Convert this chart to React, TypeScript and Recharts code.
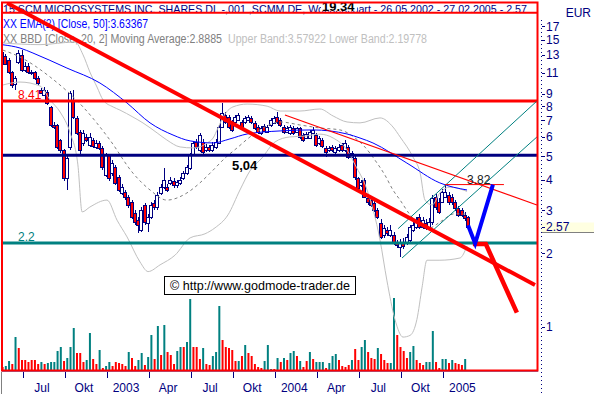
import React from 'react';
import { ComposedChart, Bar, Line, XAxis, YAxis, ReferenceLine, Cell } from 'recharts';

const FONT = '"Liberation Sans", Arial, sans-serif';
const NAVY = '#000080';
const TEAL = '#008080';
const RED = '#FF0000';
const BLUE = '#0000FF';

// Weekly candles, week index k = 0 .. 144 (26.05.2002 - 27.02.2005)
const opens = [12.62,12.85,12.39,11.06,9.87,12.15,13.0,11.27,11.65,11.1,
11.06,10.45,9.33,8.9,9.16,7.95,6.71,6.71,5.82,5.29,
4.07,5.45,8.49,7.17,6.28,5.66,5.99,5.55,5.82,5.45,
5.66,5.4,4.18,5.05,4.26,4.51,4.1,3.53,3.56,3.4,
3.24,2.92,2.73,2.49,3.15,2.66,2.81,3.2,3.09,3.53,
3.73,3.73,3.88,3.95,3.8,3.88,4.07,4.26,4.47,5.05,
5.71,5.29,5.71,5.29,5.45,5.29,5.45,5.66,6.58,7.37,
7.23,6.9,6.9,7.03,6.9,6.9,7.03,7.17,6.84,6.58,
6.22,6.65,6.28,6.71,6.84,7.23,7.03,6.58,6.28,6.22,
6.52,6.28,6.52,6.1,5.93,5.93,6.22,6.1,5.66,5.82,
5.4,5.29,5.45,5.19,5.29,5.55,5.29,5.45,4.95,4.91,
4.07,3.8,3.99,3.37,3.3,3.21,3.0,2.66,2.37,2.49,
2.37,2.37,2.2,2.12,2.2,2.22,2.26,2.49,2.56,2.81,
2.56,2.66,2.56,2.68,3.4,3.24,3.24,3.4,3.46,3.4,
3.24,3.06,3.0,2.87,2.81];
const highs = [13.9,13.1,12.6,11.2,10.65,13.6,13.6,12.2,12.0,11.3,
11.2,10.6,9.5,9.6,9.3,8.05,6.9,6.8,5.9,5.35,
5.0,9.2,9.33,7.3,6.4,6.4,6.15,6.2,5.95,5.8,
5.75,5.5,5.15,5.1,4.8,4.6,4.2,3.85,3.62,3.45,
3.3,3.0,2.8,3.1,3.2,2.9,3.25,3.3,3.55,3.85,
4.47,3.85,4.1,4.05,4.0,4.1,4.35,4.6,5.15,5.75,
5.85,6.2,5.85,5.6,5.55,5.7,5.85,6.7,8.25,7.6,
7.4,7.0,7.4,7.5,7.05,7.3,7.35,7.3,6.95,6.7,
6.65,6.75,6.7,7.15,7.3,7.6,7.15,6.7,6.65,6.7,
6.65,6.6,6.6,6.2,6.3,6.4,6.55,6.2,6.05,5.95,
5.5,5.5,5.55,5.5,5.6,5.65,5.8,5.55,5.25,5.0,
4.1,4.0,4.05,3.45,3.38,3.28,3.05,2.75,2.62,2.55,
2.6,2.45,2.26,2.28,2.3,2.4,2.62,2.7,2.8,2.9,
2.82,2.75,2.78,3.45,3.5,3.35,3.65,3.82,3.55,3.5,
3.3,3.12,3.05,2.95,2.85];
const lows = [12.15,11.8,10.9,9.5,9.33,11.9,11.1,11.1,10.9,10.8,
10.3,9.8,8.95,8.8,8.1,6.6,6.45,5.35,5.15,3.95,
3.63,5.3,7.1,6.1,5.1,5.5,5.7,5.45,5.4,5.35,
5.3,4.4,4.1,3.95,4.15,3.8,3.55,3.45,3.3,3.05,
2.75,2.6,2.42,2.45,2.6,2.45,2.75,3.0,3.0,3.45,
3.65,3.55,3.8,3.7,3.7,3.8,4.0,4.2,4.4,5.0,
5.35,5.2,5.1,5.2,5.2,5.2,5.35,5.6,6.5,6.8,
6.45,6.3,6.8,6.95,6.4,6.8,6.95,6.8,6.4,6.15,
6.1,6.25,6.2,6.6,6.75,6.8,6.6,6.15,6.2,6.1,
6.1,6.2,5.9,5.7,5.85,5.85,6.15,5.45,5.55,5.4,
4.95,5.2,5.2,5.1,5.2,5.2,5.2,4.85,4.9,4.0,
3.6,3.75,3.35,3.15,3.1,2.95,2.75,2.28,2.3,2.35,
2.32,2.16,2.1,1.93,2.08,2.15,2.22,2.45,2.5,2.5,
2.5,2.48,2.5,2.62,3.0,2.9,3.2,3.35,3.15,3.15,
2.98,2.8,2.8,2.72,2.5];
const closes = [13.36,11.95,11.06,9.78,10.45,13.25,11.27,11.7,11.06,11.0,
10.45,9.97,9.07,9.33,8.25,6.71,6.58,5.45,5.29,4.07,
4.91,9.07,7.23,6.22,5.29,6.22,5.82,5.99,5.5,5.66,
5.4,4.51,5.05,4.07,4.68,3.88,3.63,3.73,3.4,3.15,
2.81,2.68,2.61,3.0,2.68,2.81,3.15,3.08,3.46,3.73,
3.99,3.63,3.99,3.8,3.91,3.99,4.26,4.51,5.05,5.66,
5.45,6.1,5.19,5.45,5.29,5.55,5.71,6.58,7.51,6.9,
6.58,6.4,7.23,7.37,6.52,7.17,7.23,6.9,6.52,6.28,
6.52,6.34,6.58,7.03,7.17,6.9,6.71,6.28,6.52,6.58,
6.22,6.52,5.99,5.82,6.15,6.28,6.4,5.55,5.93,5.5,
5.19,5.4,5.29,5.4,5.45,5.29,5.66,4.95,5.14,4.1,
3.7,3.91,3.4,3.24,3.15,3.0,2.81,2.33,2.54,2.42,
2.49,2.22,2.16,2.2,2.14,2.33,2.56,2.61,2.68,2.56,
2.73,2.54,2.68,3.37,3.09,2.95,3.56,3.56,3.24,3.24,
3.06,2.87,2.87,2.79,2.57];
const volumes = [4,5,10,7,34,23,11,11,9,11, 11,7,9,7,8,9,9,20,24,10,
13,24,43,18,18,9,11,38,12,7, 21,3,5,9,5,9,8,7,5,19,
13,5,11,18,6,14,36,12,45,16, 46,19,16,7,20,24,24,29,72,24,
24,12,23,7,6,15,19,65,31,24, 23,21,10,10,15,26,18,15,7,4,
3,10,26,2,2,13,9,13,11,18, 20,15,10,4,10,19,12,9,9,9,
3,8,15,17,11,5,4,6,11,22, 11,24,31,19,13,12,23,17,11,8,
8,73,36,24,20,13,19,25,11,8, 6,9,9,40,9,3,12,12,8,11,
8,7,6,12,1];
// t = rising week (teal), r = falling week (red)
const volumeDirection = 'rttrtrrrrr' + 'rrtrtttttr' + 'tttrrrttrr' + 'trttrrrrrt' + 'rrttrttrtr' +
  'trrrttrttr' + 'rrtrrtttrr' + 'rrrtrtrrrr' + 'rtttrtrtrt' + 'trtrrtrttt' +
  'rtttrrrrtr' + 'rttrrrtrrr' + 'ttrrrrttrr' + 'rtttrrttrt' + 'rrrtr';

const xTickWeeks = [6.4, 19.4, 32.4, 45.4, 58.4, 71.4, 84.4, 97.4, 110.4, 123.4, 136.4];
const xTickLabels = ['Jul', 'Okt', '2003', 'Apr', 'Jul', 'Okt', '2004', 'Apr', 'Jul', 'Okt', '2005'];
const lastClose = 2.57;
const yTicks = [1, 2, lastClose, 3, 4, 5, 6, 7, 8, 9, 11, 13, 15, 17];

// indicator lines [week, value]
const ema50: [number, number][] = [[0.2,14.3],[5.5,13.87],[9.5,13.23],[20.0,11.48],[30.2,9.97],[38.6,8.25],[45.7,6.84],[52.8,6.1],[58.1,5.77],[65.2,5.66],[70.4,5.88],[75.7,6.16],[85.9,6.34],[96.1,6.4],[106.6,6.16],[110.6,5.93],[114.6,5.66],[125.1,4.68],[135.3,3.88],[143.7,3.63]];
const bbUpper: [number, number][] = [[0.2,14.54],[11.7,14.32],[22.5,14.68],[25.0,13.0],[27.1,11.06],[29.3,9.6],[31.2,8.49],[34.3,7.95],[36.4,7.72],[40.4,7.23],[43.5,6.84],[47.9,6.22],[50.9,5.82],[55.0,5.45],[59.0,5.4],[61.1,5.45],[63.3,5.66],[65.2,5.93],[66.7,6.52],[68.3,7.23],[71.3,7.95],[75.7,8.17],[81.9,8.01],[85.9,7.65],[92.0,7.65],[98.2,7.8],[102.3,7.3],[106.6,6.9],[110.6,6.84],[116.8,7.17],[120.8,6.58],[123.0,5.99],[127.0,4.95],[129.2,4.26],[130.7,3.3],[132.9,3.15],[135.3,3.53],[138.4,3.73],[143.7,3.58]];
const bbMiddle: [number, number][] = [[0.2,13.6],[5.5,12.74],[14.8,10.55],[25.0,7.95],[33.3,5.82],[40.4,4.26],[45.7,3.63],[50.9,3.3],[57.1,3.53],[61.1,3.88],[65.2,4.38],[68.9,4.91],[72.6,5.4],[76.6,5.99],[81.2,6.58],[85.9,6.9],[92.0,6.71],[98.2,6.52],[104.4,6.4],[109.1,5.93],[112.1,5.45],[115.2,4.82],[118.3,4.18],[120.8,3.63],[123.0,3.3],[126.1,2.87],[129.2,2.61],[132.2,2.54],[135.3,2.68],[139.9,2.9],[143.7,2.89]];
const bbLower: [number, number][] = [[0.2,9.78],[5.5,10.06],[11.7,9.69],[14.8,8.49],[17.9,7.58],[21.0,6.22],[23.4,4.6],[24.7,2.95],[27.1,3.09],[32.4,3.3],[35.5,2.73],[38.6,2.33],[42.6,1.84],[45.1,1.68],[48.8,1.79],[53.4,1.96],[58.1,2.31],[62.7,2.4],[65.8,2.54],[69.8,2.87],[73.5,3.63],[76.6,4.35],[80.3,4.91],[84.3,5.71],[88.9,5.99],[93.6,6.04],[98.2,6.15],[102.3,5.93],[106.6,5.29],[109.1,4.6],[112.8,3.63],[116.8,2.26],[118.9,1.55],[121.4,1.07],[123.9,0.905],[126.1,0.92],[128.2,1.07],[129.8,1.45],[131.3,1.87],[135.3,1.87],[141.5,1.91],[143.7,2.14]];

// drawn trend lines [week, price]
const mainTrend: [number, number][] = [[1.5, 21.2], [164.7, 1.48]];
const resistance: [number, number][] = [[87.4, 7.37], [165.3, 3.15]];
const channelUpper: [number, number][] = [[122.4, 2.52], [165.3, 8.41]];
const channelLower: [number, number][] = [[123.6, 1.91], [165.3, 5.99]];
const target382: [number, number][] = [[136.9, 3.82], [155.1, 3.82]];
const redScenario: [number, number][] = [[145.5, 2.18], [149.5, 2.18], [159.1, 1.14]];
const blueScenario: [number, number][] = [[144.0, 2.6], [146.2, 2.19], [151.7, 3.82]];
const levelHigh = 19.34;
const level841 = 8.41;
const level504 = 5.04;
const level22 = 2.2;

const XMIN = -0.062;
const XMAX = 165.63;
const YMIN = 0.657;
const YMAX = 21.42;

const candles = opens.map((o, i) => ({
  k: i, o, h: highs[i], l: lows[i], c: closes[i], vol: volumes[i], vUp: volumeDirection[i] === 't',
}));
const pts = (a: [number, number][]) => a.map(([k, v]) => ({ k, v }));
const seg = (a: [number, number][]) => a.map(([k, v]) => ({ x: k, y: v }));

const CandleShape = (props: any) => {
  const { x, y, width, height, payload } = props;
  if (!payload || !isFinite(y) || !isFinite(height)) return null;
  const { o, h, l, c } = payload;
  const n = Math.round(x + width / 2);
  const lh = Math.log(h);
  const span = lh - Math.log(l);
  const pp = span > 0 ? height / span : 0;
  const yOf = (v: number) => y + (lh - Math.log(v)) * pp;
  const t = Math.round(Math.min(yOf(o), yOf(c)));
  const b = Math.round(Math.max(yOf(o), yOf(c)));
  const up = c >= o;
  return (
    <g>
      <line x1={n + 0.5} x2={n + 0.5} y1={Math.round(y)} y2={Math.round(y + height)} stroke={NAVY} strokeWidth={1} />
      <rect x={n - 1.5} y={t + 0.5} width={3} height={Math.max(1, b - t)} fill={up ? '#FFFFFF' : RED} stroke={NAVY} strokeWidth={1} />
    </g>
  );
};

const XTick = (props: any) => {
  const { x, y, payload } = props;
  const i = xTickWeeks.indexOf(payload.value);
  const xr = Math.round(x) + 0.5;
  return (
    <g>
      <line x1={xr} x2={xr} y1={y + 1} y2={y + 7} stroke={NAVY} />
      <text x={x + 19} y={y + 21} textAnchor="middle" fontSize={12} fill={NAVY} fontFamily={FONT}>{xTickLabels[i]}</text>
    </g>
  );
};

const YTick = (props: any) => {
  const { x, y, payload } = props;
  const v = payload.value;
  const isLast = v === lastClose;
  const yr = Math.round(y) + 0.5;
  return (
    <g>
      {isLast && <rect x={x + 3} y={yr - 5} width={56} height={10} fill="#FFFFE1" />}
      {isLast && <line x1={x + 3} x2={x + 59} y1={yr + 5} y2={yr + 5} stroke="#808080" />}
      <line x1={x + 4} x2={x + 7} y1={yr} y2={yr} stroke={NAVY} />
      <text x={x + 8} y={y + 4.5} fontSize={12} fill={NAVY} fontFamily={FONT}>{String(v)}</text>
    </g>
  );
};

const mkLabel = (text: string, dx: number, dy: number, fill: string, size: number, bold = false, bg = false) =>
  (props: any) => {
    const vb = props.viewBox || {};
    const x0 = (vb.x ?? 0) + dx;
    const y0 = (vb.y ?? 0) + dy;
    return (
      <g>
        {bg && <rect x={x0 - 1} y={y0 - 9} width={36} height={9} fill="#FFFFFF" />}
        <text x={x0} y={y0} fill={fill} fontSize={size} fontWeight={bold ? 'bold' : 'normal'} fontFamily={FONT}>{text}</text>
      </g>
    );
  };

export default function App() {
  return (
    <div style={{ position: 'absolute', left: 0, top: 0, width: 594, height: 394, background: '#FFFFFF', overflow: 'hidden' }}>
      <svg width={594} height={394} style={{ position: 'absolute', left: 0, top: 0 }}>
        <text x={3} y={13} fontSize={11} fill={NAVY} fontFamily={FONT} textLength={524} lengthAdjust="spacingAndGlyphs">15 SCM MICROSYSTEMS INC. SHARES DL -,001 ,SCMM.DE, Wochenchart - 26.05.2002 - 27.02.2005 - 2.57</text>
        <text x={3} y={28} fontSize={12} fill={BLUE} fontFamily={FONT} textLength={145} lengthAdjust="spacingAndGlyphs">XX EMA(2) [Close, 50]:3.63367</text>
        <text x={3} y={43} fontSize={12} fill="#808080" fontFamily={FONT} textLength={219} lengthAdjust="spacingAndGlyphs">XX BBD [Close, 20, 2] Moving Average:2.8885</text>
        <text x={228} y={43} fontSize={12} fill="#C0C0C0" fontFamily={FONT} textLength={199} lengthAdjust="spacingAndGlyphs">Upper Band:3.57922 Lower Band:2.19778</text>
      </svg>
      <div style={{ position: 'absolute', left: 0, top: 0 }}>
        <ComposedChart width={594} height={394} data={candles} margin={{ top: 2, right: 0, bottom: 0, left: 2 }}>
          <XAxis xAxisId="main" type="number" dataKey="k" domain={[XMIN, XMAX]} allowDataOverflow
            ticks={xTickWeeks} interval={0} tick={<XTick />} tickLine={false} tickSize={0} tickMargin={0}
            axisLine={{ stroke: NAVY }} height={23} />
          <XAxis xAxisId="vol" type="number" dataKey="k" domain={[XMIN, XMAX]} allowDataOverflow hide />
          <YAxis yAxisId="price" orientation="right" scale="log" domain={[YMIN, YMAX]} allowDataOverflow
            ticks={yTicks} interval={0} tick={<YTick />} tickLine={false} tickSize={0} tickMargin={0}
            axisLine={false} width={56} />
          <YAxis yAxisId="vol" domain={[0, 369]} allowDataOverflow hide />

          <Bar xAxisId="vol" yAxisId="vol" dataKey="vol" barSize={2} isAnimationActive={false}>
            {candles.map((d, i) => <Cell key={i} fill={d.vUp ? TEAL : RED} />)}
          </Bar>

          <Line xAxisId="main" yAxisId="price" data={pts(bbUpper)} dataKey="v" type="monotone" dot={false} stroke="#C0C0C0" strokeWidth={1} isAnimationActive={false} />
          <Line xAxisId="main" yAxisId="price" data={pts(bbLower)} dataKey="v" type="monotone" dot={false} stroke="#C0C0C0" strokeWidth={1} isAnimationActive={false} />
          <Line xAxisId="main" yAxisId="price" data={pts(bbMiddle)} dataKey="v" type="monotone" dot={false} stroke="#808080" strokeWidth={1} strokeDasharray="3 3" isAnimationActive={false} />
          <Line xAxisId="main" yAxisId="price" data={pts(ema50)} dataKey="v" type="monotone" dot={false} stroke={BLUE} strokeWidth={1} isAnimationActive={false} />

          <Bar xAxisId="main" yAxisId="price" dataKey={(d: any) => [d.l, d.h]} barSize={3} shape={(p: any) => <CandleShape {...p} />} isAnimationActive={false} />

          <ReferenceLine xAxisId="main" yAxisId="price" y={levelHigh} stroke={RED} strokeWidth={2}
            label={mkLabel('19.34', 320, -2, '#000000', 13, true, true)} />
          <ReferenceLine xAxisId="main" yAxisId="price" y={level841} stroke={RED} strokeWidth={3}
            label={mkLabel('8.41', 16, -2, RED, 12)} />
          <ReferenceLine xAxisId="main" yAxisId="price" y={level504} stroke={NAVY} strokeWidth={3}
            label={mkLabel('5,04', 230, 15, '#000000', 13, true)} />
          <ReferenceLine xAxisId="main" yAxisId="price" y={level22} stroke={TEAL} strokeWidth={3}
            label={mkLabel('2.2', 16, -2, TEAL, 12)} />

          <ReferenceLine xAxisId="main" yAxisId="price" segment={seg(channelUpper)} stroke={TEAL} strokeWidth={1} ifOverflow="hidden" />
          <ReferenceLine xAxisId="main" yAxisId="price" segment={seg(channelLower)} stroke={TEAL} strokeWidth={1} ifOverflow="hidden" />
          <ReferenceLine xAxisId="main" yAxisId="price" segment={seg(resistance)} stroke={RED} strokeWidth={1.2} ifOverflow="hidden" />
          <ReferenceLine xAxisId="main" yAxisId="price" segment={seg(target382)} stroke={RED} strokeWidth={1}
            label={mkLabel('3.82', 22, -1, '#202020', 12)} ifOverflow="hidden" />
          <ReferenceLine xAxisId="main" yAxisId="price" segment={seg(mainTrend)} stroke={RED} strokeWidth={4} ifOverflow="hidden" />

          <Line xAxisId="main" yAxisId="price" data={pts(redScenario)} dataKey="v" type="linear" dot={false} stroke={RED} strokeWidth={4.5} isAnimationActive={false} />
          <Line xAxisId="main" yAxisId="price" data={pts(blueScenario)} dataKey="v" type="linear" dot={false} stroke={BLUE} strokeWidth={4} isAnimationActive={false} />
        </ComposedChart>
      </div>
      <svg width={594} height={394} style={{ position: 'absolute', left: 0, top: 0, pointerEvents: 'none' }}>
        <rect x={2} y={2.5} width={535.5} height={368} fill="none" stroke={RED} strokeWidth={2} />
        <line x1={1.5} x2={1.5} y1={372} y2={394} stroke="#808080" />
        <line x1={541.5} x2={541.5} y1={20} y2={394} stroke={NAVY} strokeDasharray="1 3" />
        <text x={591} y={17} fontSize={12} fill={NAVY} fontFamily={FONT} textAnchor="end">EUR</text>
        <rect x={164.5} y={276.5} width={191} height={18} fill="#FFFFFF" stroke="#000000" strokeWidth={1} />
        <text x={170} y={290} fontSize={13} fill="#000000" fontFamily={FONT} textLength={180} lengthAdjust="spacingAndGlyphs">© http://www.godmode-trader.de</text>
      </svg>
    </div>
  );
}
